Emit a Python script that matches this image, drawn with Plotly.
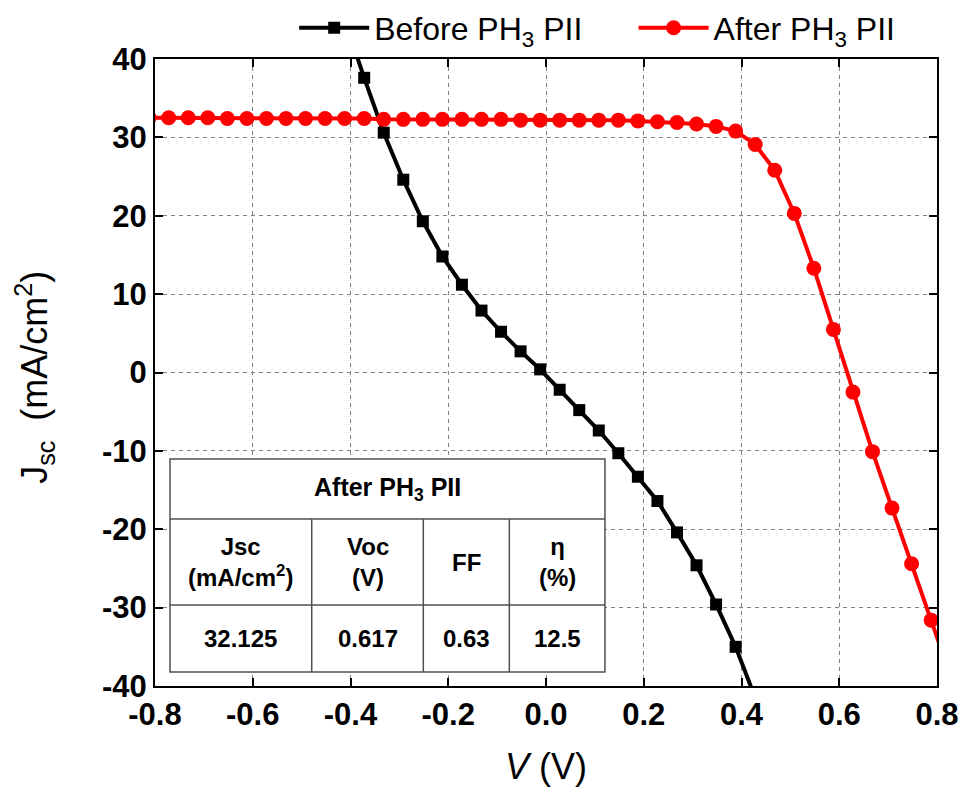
import plotly.graph_objects as go

# ---- data ----
v_before = [-0.412, -0.372, -0.332, -0.292, -0.252, -0.212, -0.172, -0.132, -0.092, -0.052,
            -0.012, 0.028, 0.068, 0.108, 0.148, 0.188, 0.228, 0.268, 0.308, 0.348, 0.388, 0.428]
j_before = [45.0, 37.6, 30.6, 24.6, 19.3, 14.8, 11.2, 7.9, 5.2, 2.7,
            0.4, -2.2, -4.8, -7.4, -10.3, -13.3, -16.4, -20.4, -24.6, -29.6, -35.0, -41.5]

v_after = [-0.812, -0.772, -0.732, -0.692, -0.652, -0.612, -0.572, -0.532, -0.492, -0.452,
           -0.412, -0.372, -0.332, -0.292, -0.252, -0.212, -0.172, -0.132, -0.092, -0.052,
           -0.012, 0.028, 0.068, 0.108, 0.148, 0.188, 0.228, 0.268, 0.308, 0.348,
           0.388, 0.428, 0.468, 0.508, 0.548, 0.588, 0.628, 0.668, 0.708, 0.748,
           0.788, 0.828]
j_after = [32.5, 32.5, 32.5, 32.5, 32.4, 32.4, 32.4, 32.4, 32.4, 32.4,
           32.4, 32.4, 32.3, 32.3, 32.3, 32.3, 32.3, 32.3, 32.3, 32.2,
           32.2, 32.2, 32.2, 32.2, 32.2, 32.1, 32.0, 31.9, 31.7, 31.4,
           30.8, 29.1, 25.8, 20.3, 13.3, 5.5, -2.5, -10.1, -17.3, -24.4,
           -31.6, -38.8]

x_ticks = [-0.8, -0.6, -0.4, -0.2, 0.0, 0.2, 0.4, 0.6, 0.8]
x_tick_labels = ["-0.8", "-0.6", "-0.4", "-0.2", "0.0", "0.2", "0.4", "0.6", "0.8"]
y_ticks = [-40, -30, -20, -10, 0, 10, 20, 30, 40]
y_tick_labels = ["-40", "-30", "-20", "-10", "0", "10", "20", "30", "40"]

x_title = "<i>V</i> (V)"
y_title = "J<sub>sc</sub>  (mA/cm<sup>2</sup>)"

table_title = "After PH<sub>3</sub> PII"
table_headers = ["Jsc<br>(mA/cm<sup>2</sup>)", "Voc<br>(V)", "FF", "η<br>(%)"]
table_values = ["32.125", "0.617", "0.63", "12.5"]

FONT = "Liberation Sans, Arial, sans-serif"

fig = go.Figure()
fig.add_trace(go.Scatter(
    x=v_before, y=j_before, mode="lines+markers", name="Before PH<sub>3</sub> PII",
    line=dict(color="black", width=4),
    marker=dict(symbol="square", size=12, color="black"),
    legend="legend",
))
fig.add_trace(go.Scatter(
    x=v_after, y=j_after, mode="lines+markers", name="After PH<sub>3</sub> PII",
    line=dict(color="#ff0000", width=4),
    marker=dict(symbol="circle", size=15, color="#ff0000"),
    legend="legend2",
))

axis_common = dict(
    showline=True, linecolor="black", linewidth=2, mirror="ticks",
    ticks="inside", ticklen=8, tickwidth=2, tickcolor="black",
    showgrid=True, gridcolor="#808080", gridwidth=1, griddash="4px,4px",
    zeroline=False,
    tickfont=dict(family=FONT, size=31, color="black", weight="bold"),
)

fig.update_xaxes(range=[-0.8, 0.8], tickvals=x_ticks, ticktext=x_tick_labels, **axis_common)
fig.update_yaxes(range=[-40, 40], tickvals=y_ticks, ticktext=y_tick_labels, **axis_common)

# axis titles
title_font = dict(family=FONT, size=36, color="black")
fig.add_annotation(xref="paper", yref="paper", x=0.5, y=-0.129, xanchor="center", yanchor="middle",
                   text=x_title, showarrow=False, font=title_font)
fig.add_annotation(xref="paper", yref="paper", x=-0.1535, y=0.493, xanchor="center", yanchor="middle",
                   text=y_title, showarrow=False, font=title_font, textangle=-90)

# ---- inset table (paper coordinates of the plot area) ----
tx0, tx1 = 0.0192, 0.5754
col_edges = [tx0, 0.2004, 0.3431, 0.4531, tx1]
ty_top, ty_r1, ty_r2, ty_bot = 0.362, 0.2663, 0.1292, 0.0223
border = dict(color="#505050", width=1.5)

fig.add_shape(type="rect", xref="paper", yref="paper", x0=tx0, x1=tx1, y0=ty_bot, y1=ty_top,
              fillcolor="white", line=border, layer="above")
for yy in (ty_r1, ty_r2):
    fig.add_shape(type="line", xref="paper", yref="paper", x0=tx0, x1=tx1, y0=yy, y1=yy,
                  line=border, layer="above")
for xx in col_edges[1:-1]:
    fig.add_shape(type="line", xref="paper", yref="paper", x0=xx, x1=xx, y0=ty_bot, y1=ty_r1,
                  line=border, layer="above")

tfont = dict(family=FONT, size=24, color="black", weight="bold")
fig.add_annotation(xref="paper", yref="paper", x=(tx0 + tx1) / 2, y=(ty_top + ty_r1) / 2,
                   xanchor="center", yanchor="middle",
                   text=table_title, showarrow=False, font=dict(tfont, size=25))
for i, (h, v) in enumerate(zip(table_headers, table_values)):
    cx = (col_edges[i] + col_edges[i + 1]) / 2
    fig.add_annotation(xref="paper", yref="paper", x=cx, y=(ty_r1 + ty_r2) / 2,
                       xanchor="center", yanchor="middle",
                       text=h, showarrow=False, font=tfont)
    fig.add_annotation(xref="paper", yref="paper", x=cx, y=(ty_r2 + ty_bot) / 2,
                       xanchor="center", yanchor="middle",
                       text=v, showarrow=False, font=tfont)

legend_common = dict(orientation="h", xanchor="left", yanchor="middle", yref="container",
                     font=dict(family=FONT, size=32, color="black"),
                     bgcolor="rgba(0,0,0,0)", itemwidth=70)

fig.update_layout(
    width=960, height=780,
    margin=dict(l=147, r=31, t=51, b=102, autoexpand=False),
    plot_bgcolor="white", paper_bgcolor="white",
    font=dict(family=FONT, color="black"),
    legend=dict(legend_common, x=0.178, y=0.9744),
    legend2=dict(legend_common, x=0.612, y=0.9744),
    showlegend=True,
)

fig.write_html("out.html")
